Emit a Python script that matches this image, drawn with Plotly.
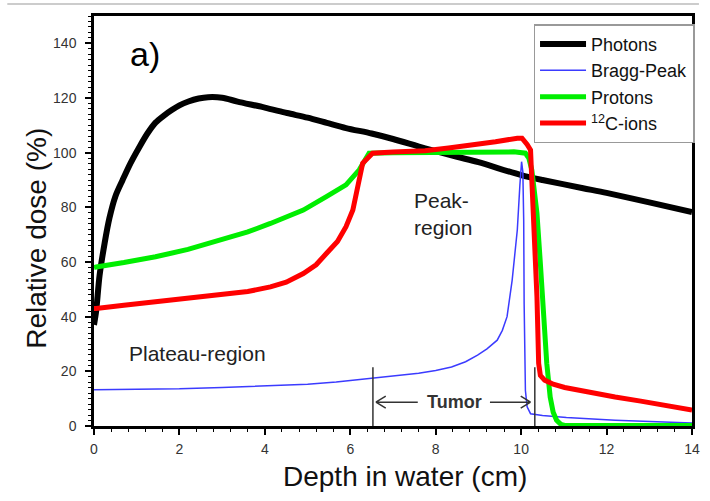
import plotly.graph_objects as go

# ---- data ----
photon_x = [0, 0.05, 0.13, 0.25, 0.36, 0.5, 0.67, 0.85, 1.06, 1.25, 1.44, 1.63, 1.82, 2.0, 2.21,
            2.45, 2.67, 3.0, 3.36, 4.0, 4.52, 5.0, 5.45, 5.9, 6.5, 7.0, 7.75, 8.5, 9.0, 10.0,
            10.5, 11.45, 12.0, 13.0, 14.0]
photon_y = [37, 42, 55, 67, 76, 84, 90, 96, 102, 107, 111, 113.5, 115.6, 117.3, 118.7,
            119.8, 120.3, 120.1, 118.7, 116.5, 114.5, 112.8, 110.9, 109, 107, 105, 101.6, 98.5, 96.5, 91.8,
            90, 87, 85.3, 81.8, 78.3]

bragg_x = [0, 1, 2, 3, 4, 5, 5.67, 6.52, 7.0, 7.6, 8.0, 8.37, 8.7, 8.98, 9.2, 9.44, 9.56, 9.67,
           9.79, 9.91, 9.97, 10.01, 10.04, 10.06, 10.07, 10.08, 10.1, 10.14, 10.22, 10.5, 11.06,
           12.2, 13.0, 14.0]
bragg_y = [13.3, 13.4, 13.6, 14.1, 14.6, 15.3, 16.1, 17.4, 18.2, 19.3, 20.3, 21.6, 23.5, 25.9,
           28.2, 31.4, 35, 40, 53.4, 71.7, 88, 96.7, 93, 75, 45, 25, 13, 7, 4.5, 3.8, 3.1,
           2.1, 1.6, 1.1]

proton_x = [0, 0.05, 0.7, 1.44, 2.2, 2.98, 3.6, 4.13, 4.9, 5.44, 5.9, 6.21, 6.44, 7.0, 8.0,
            8.52, 9.2, 9.83, 10.1, 10.18, 10.25, 10.37, 10.45, 10.52, 10.6, 10.68, 10.75,
            10.83, 10.93, 11.02, 12.0, 13.0, 14.0]
proton_y = [58, 58.2, 59.8, 61.9, 64.6, 68, 71, 74.1, 79, 83.9, 88.2, 93.7, 99.8, 100, 100,
            100.2, 100.3, 100.3, 99.8, 98, 93.7, 77.8, 59.5, 41.2, 22.9, 10.6, 5, 2.1, 0.6,
            0.2, 0.2, 0.2, 0.2]

carbon_x = [0, 0.05, 0.7, 1.44, 2.2, 2.98, 3.6, 4.13, 4.5, 4.9, 5.2, 5.44, 5.7, 5.9, 6.06,
            6.29, 6.52, 7.0, 7.75, 8.3, 8.9, 9.4, 9.91, 10.02, 10.14, 10.22, 10.25, 10.31,
            10.37, 10.41, 10.45, 10.55, 10.75, 11.02, 11.6, 12.2, 12.8, 13.37, 14.0]
carbon_y = [43, 43, 44.2, 45.4, 46.6, 47.9, 49.2, 50.9, 52.6, 55.8, 59, 63.1, 67.5, 72.9, 79,
            96.1, 99.8, 100.2, 100.7, 101.7, 102.8, 104, 105.3, 105.3, 103, 101, 90, 71.7,
            47.3, 22.9, 18.5, 16.8, 15.3, 14.1, 12.3, 10.6, 9.1, 7.6, 5.8]

tumor_bounds = [6.53, 10.32]
y_ticks = [0, 20, 40, 60, 80, 100, 120, 140]
x_ticks = [0, 2, 4, 6, 8, 10, 12, 14]

FONT = "Liberation Sans, Arial, sans-serif"

fig = go.Figure()
fig.add_trace(go.Scatter(x=photon_x, y=photon_y, mode="lines", name="Photons",
                         line=dict(color="#000000", width=6, shape="spline", smoothing=0.8)))
fig.add_trace(go.Scatter(x=bragg_x, y=bragg_y, mode="lines", name="Bragg-Peak",
                         line=dict(color="#3b3bff", width=1.5)))
fig.add_trace(go.Scatter(x=proton_x, y=proton_y, mode="lines", name="Protons",
                         line=dict(color="#00ee00", width=5)))
fig.add_trace(go.Scatter(x=carbon_x, y=carbon_y, mode="lines", name="<sup>12</sup>C-ions",
                         line=dict(color="#ff0000", width=5)))

# tumor boundary lines
for tb in tumor_bounds:
    fig.add_shape(type="line", x0=tb, x1=tb, y0=0, y1=21.5, xref="x", yref="y",
                  line=dict(color="#333333", width=1.5))

# tumor arrows
arrow_y = 8.7
lo, hi = tumor_bounds
fig.add_shape(type="path", xref="x", yref="y",
              path=f"M {lo+0.07} {arrow_y} L {lo+1.05} {arrow_y} "
                   f"M {lo+0.07} {arrow_y} L {lo+0.3} {arrow_y+2.2} "
                   f"M {lo+0.07} {arrow_y} L {lo+0.3} {arrow_y-2.2}",
              line=dict(color="#333333", width=1.5))
fig.add_shape(type="path", xref="x", yref="y",
              path=f"M {hi-0.1} {arrow_y} L {hi-1.05} {arrow_y} "
                   f"M {hi-0.1} {arrow_y} L {hi-0.33} {arrow_y+2.2} "
                   f"M {hi-0.1} {arrow_y} L {hi-0.33} {arrow_y-2.2}",
              line=dict(color="#333333", width=1.5))

fig.add_annotation(x=(lo + hi) / 2 + 0.02, y=arrow_y, xref="x", yref="y", text="<b>Tumor</b>",
                   showarrow=False, font=dict(family=FONT, size=18, color="#333333"))
fig.add_annotation(x=7.45, y=77.5, xref="x", yref="y", text="Peak-<br>region",
                   showarrow=False, xanchor="left", align="left",
                   font=dict(family=FONT, size=21, color="#222222"))
fig.add_annotation(x=0.78, y=26.6, xref="x", yref="y", text="Plateau-region",
                   showarrow=False, xanchor="left",
                   font=dict(family=FONT, size=21, color="#222222"))
fig.add_annotation(x=1.2, y=136, xref="x", yref="y", text="a)",
                   showarrow=False, font=dict(family=FONT, size=34, color="#000000"))

# axis titles
fig.add_annotation(x=0.52, y=-0.123, xref="paper", yref="paper", text="Depth in water (cm)",
                   xanchor="center", yanchor="middle",
                   showarrow=False, font=dict(family=FONT, size=28, color="#111111"))
fig.add_annotation(x=-0.0974, y=0.4585, xref="paper", yref="paper", text="Relative dose (%)",
                   xanchor="center", yanchor="middle",
                   textangle=-90, showarrow=False, font=dict(family=FONT, size=28, color="#111111"))

# separator line at top of image
fig.add_shape(type="line", xref="paper", yref="paper", x0=-0.145, x1=1.0116, y0=1.029, y1=1.029,
              line=dict(color="#bbbbbb", width=1.5))

fig.update_layout(
    width=710, height=501,
    margin=dict(l=94, r=10, t=16, b=75),
    paper_bgcolor="white", plot_bgcolor="white",
    font=dict(family=FONT, color="#333333"),
    showlegend=True,
    legend=dict(x=0.735, y=0.98, xanchor="left", yanchor="top",
                bgcolor="white", bordercolor="#999999", borderwidth=1.5,
                font=dict(family=FONT, size=18, color="#111111"),
                tracegroupgap=0, itemwidth=46),
    xaxis=dict(range=[0, 14], tickvals=x_ticks, ticktext=[str(v) for v in x_ticks],
               showgrid=False, zeroline=False, showline=True, linecolor="black", linewidth=2.5,
               mirror=True, ticks="outside", ticklen=6, tickwidth=1.5, tickcolor="black",
               minor=dict(dtick=0.4, ticks="outside", ticklen=3, tickwidth=1, tickcolor="black"),
               tickfont=dict(family=FONT, size=14, color="#333333"), ticklabelstandoff=2),
    yaxis=dict(range=[0, 150], tickvals=y_ticks, ticktext=[str(v) for v in y_ticks],
               showgrid=False, zeroline=False, showline=True, linecolor="black", linewidth=2.5,
               mirror=True, ticks="outside", ticklen=6, tickwidth=1.5, tickcolor="black",
               minor=dict(dtick=2, ticks="outside", ticklen=3, tickwidth=1, tickcolor="black"),
               tickfont=dict(family=FONT, size=14, color="#333333"), ticklabelstandoff=6),
)

fig.write_html("out.html")
